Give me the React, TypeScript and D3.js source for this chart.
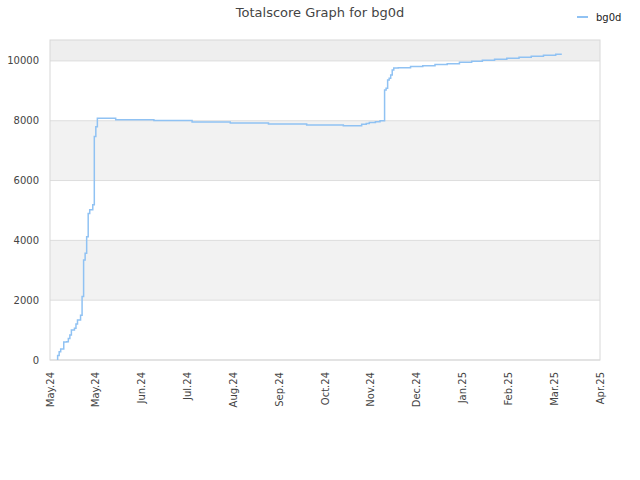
import React from "react";
import * as d3 from "d3";

const title = "Totalscore Graph for bg0d";
const seriesName = "bg0d";

const dates: string[] = [
  "2024-05-06", "2024-05-06", "2024-05-07", "2024-05-08", "2024-05-10", "2024-05-12",
  "2024-05-13", "2024-05-14", "2024-05-15", "2024-05-17", "2024-05-18", "2024-05-19",
  "2024-05-21", "2024-05-22", "2024-05-22", "2024-05-23", "2024-05-23", "2024-05-24",
  "2024-05-25", "2024-05-25", "2024-05-26", "2024-05-27", "2024-05-29", "2024-05-30",
  "2024-05-30", "2024-05-31", "2024-06-01", "2024-06-13", "2024-07-08", "2024-08-02",
  "2024-08-27", "2024-09-21", "2024-10-16", "2024-11-09", "2024-11-21", "2024-11-24",
  "2024-11-26", "2024-11-30", "2024-12-03", "2024-12-06", "2024-12-06", "2024-12-06",
  "2024-12-07", "2024-12-08", "2024-12-09", "2024-12-10", "2024-12-11", "2024-12-12",
  "2024-12-15", "2024-12-23", "2024-12-31", "2025-01-08", "2025-01-16", "2025-01-24",
  "2025-02-01", "2025-02-08", "2025-02-16", "2025-02-24", "2025-03-04", "2025-03-12",
  "2025-03-20", "2025-03-28", "2025-04-01",
];

const scores: number[] = [
  0, 150, 280, 370, 600, 610,
  720, 840, 1000, 1060, 1200, 1340,
  1500, 1640, 2120, 2150, 3340, 3570,
  3790, 4120, 4900, 5020, 5190, 5400,
  7470, 7800, 8080, 8035, 8005, 7960,
  7926, 7893, 7860, 7836, 7880, 7910,
  7940, 7970, 8000, 8045, 8190, 9030,
  9090, 9360, 9420, 9530, 9700, 9760,
  9776, 9810, 9843, 9877, 9910, 9955,
  9990, 10020, 10055, 10090, 10123, 10156,
  10190, 10223, 10223,
];

const yTicks: number[] = [0, 2000, 4000, 6000, 8000, 10000];
const xStart = "2024-05-01";
const xTickCount = 13;
const xTickStepDays = 30;

const W = 640;
const H = 480;
const left = 50;
const right = 600;
const top = 40;
const bottom = 360;
const font = "DejaVu Sans, sans-serif";

export default function App() {
  const start = new Date(xStart + "T00:00:00Z");
  const dayMs = 86400000;
  const xTicks = d3.range(xTickCount).map((i) => new Date(start.getTime() + i * xTickStepDays * dayMs));
  const x = d3.scaleUtc().domain([xTicks[0], xTicks[xTicks.length - 1]]).range([left, right]);
  const y = d3.scaleLinear().domain([0, 10700]).range([bottom, top]);
  const fmt = d3.utcFormat("%b.%y");

  const pts = dates.map((d, i) => ({ t: new Date(d + "T00:00:00Z"), v: scores[i] }));
  const line = d3
    .line<{ t: Date; v: number }>()
    .x((d) => x(d.t))
    .y((d) => y(d.v))
    .curve(d3.curveStepAfter);

  const bandEdges = [...yTicks, y.domain()[1]];
  const bands = bandEdges.slice(0, -1).map((v, i) => ({ a: v, b: bandEdges[i + 1], i }));

  return (
    <svg width={W} height={H} style={{ position: "absolute", left: 0, top: 0, background: "#fff" }}>
      <rect x={0} y={0} width={W} height={H} fill="#fff" />
      {bands.map((b) =>
        b.i % 2 === 1 ? (
          <rect
            key={b.i}
            x={left}
            y={y(b.b)}
            width={right - left}
            height={y(b.a) - y(b.b)}
            fill={b.i === bands.length - 1 ? "#eeeeee" : "#f2f2f2"}
          />
        ) : null
      )}
      {yTicks.map((t) => (
        <line key={t} x1={left} x2={right} y1={y(t)} y2={y(t)} stroke="#dddddd" strokeWidth={1} />
      ))}
      <rect x={left} y={top} width={right - left} height={bottom - top} fill="none" stroke="#d8d8d8" strokeWidth={1} />
      {yTicks.map((t) => (
        <text
          key={"yl" + t}
          x={39}
          y={y(t)}
          dy="0.35em"
          textAnchor="end"
          fontFamily={font}
          fontSize={10}
          fill="#444"
        >
          {t}
        </text>
      ))}
      {xTicks.map((t, i) => (
        <text
          key={"xl" + i}
          transform={`translate(${x(t)},${372}) rotate(-90)`}
          dy="0.35em"
          textAnchor="end"
          fontFamily={font}
          fontSize={10}
          fill="#444"
        >
          {fmt(t)}
        </text>
      ))}
      <path d={line(pts) || ""} fill="none" stroke="#90c2f3" strokeWidth={1.5} />
      <text x={320} y={17} textAnchor="middle" fontFamily={font} fontSize={13} fill="#444">
        {title}
      </text>
      <line x1={577} x2={588} y1={17} y2={17} stroke="#90c2f3" strokeWidth={2} />
      <text x={596} y={17} dy="0.35em" fontFamily={font} fontSize={10} fill="#222">
        {seriesName}
      </text>
    </svg>
  );
}
